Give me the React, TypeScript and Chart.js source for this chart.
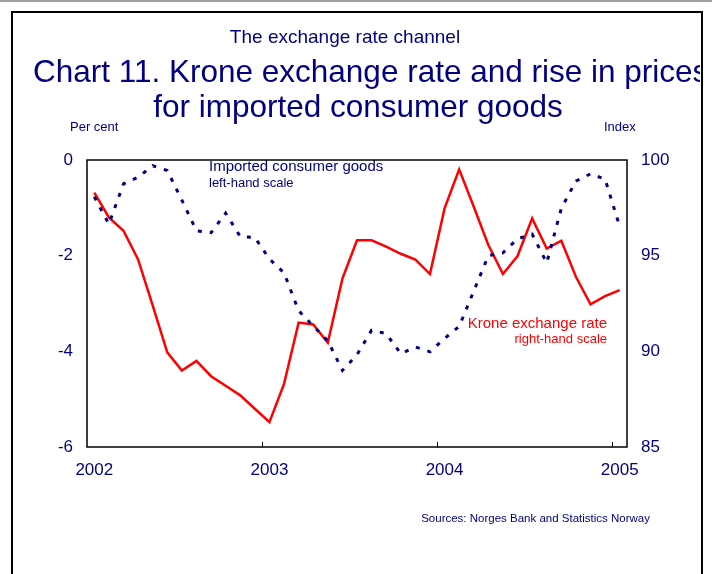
import React, { useEffect, useRef } from "react";
import { Chart, registerables } from "chart.js";

Chart.register(...registerables);

const months = [
  "2002-01", "2002-02", "2002-03", "2002-04", "2002-05", "2002-06", "2002-07", "2002-08", "2002-09", "2002-10", "2002-11", "2002-12",
  "2003-01", "2003-02", "2003-03", "2003-04", "2003-05", "2003-06", "2003-07", "2003-08", "2003-09", "2003-10", "2003-11", "2003-12",
  "2004-01", "2004-02", "2004-03", "2004-04", "2004-05", "2004-06", "2004-07", "2004-08", "2004-09", "2004-10", "2004-11", "2004-12",
  "2005-01",
];

// Imported consumer goods, 12-month rise in per cent (left-hand scale)
const importedGoods = [
  -0.77, -1.34, -0.5, -0.36, -0.12, -0.22, -0.84, -1.48, -1.52, -1.11, -1.6, -1.62,
  -2.07, -2.36, -3.15, -3.47, -3.78, -4.4, -4.07, -3.56, -3.63, -4.05, -3.91, -4.01,
  -3.73, -3.48, -2.74, -2.0, -1.94, -1.65, -1.55, -2.15, -1.01, -0.44, -0.29, -0.4,
  -1.39,
];

// Krone exchange rate index (right-hand scale)
const kroneRate = [
  98.29, 97.0, 96.3, 94.8, 92.4, 89.95, 89.0, 89.5, 88.7, 88.2, 87.7, 87.0,
  86.3, 88.3, 91.5, 91.4, 90.45, 93.8, 95.8, 95.8, 95.47, 95.1, 94.8, 94.04,
  97.47, 99.51, 97.56, 95.56, 94.04, 94.98, 96.95, 95.37, 95.78, 93.9, 92.46, 92.89,
  93.2,
];

const leftTicks = [-6, -4, -2, 0];
const rightTicks = [85, 90, 95, 100];

const NAVY = "#000080";
const RED = "#ff0000";
const FONT = "Arial, 'Liberation Sans', sans-serif";

const decorPlugin = {
  id: "decor",
  afterDraw(chart: any) {
    const ctx = chart.ctx as CanvasRenderingContext2D;
    const ca = chart.chartArea;
    ctx.save();

    const text = (s: string, x: number, y: number, size: number, color: string, align: CanvasTextAlign) => {
      ctx.font = `${size}px ${FONT}`;
      ctx.fillStyle = color;
      ctx.textAlign = align;
      ctx.textBaseline = "alphabetic";
      ctx.fillText(s, x, y);
    };

    text("The exchange rate channel", 345, 43, 19, NAVY, "center");

    ctx.save();
    ctx.beginPath();
    ctx.rect(0, 0, 700, 574);
    ctx.clip();
    text("Chart 11. Krone exchange rate and rise in prices", 33, 82, 31.5, NAVY, "left");
    ctx.restore();
    text("for imported consumer goods", 358, 117, 31.5, NAVY, "center");

    text("Per cent", 70, 131, 13, NAVY, "left");
    text("Index", 604, 131, 13, NAVY, "left");

    text("Imported consumer goods", 209, 171, 15, NAVY, "left");
    text("left-hand scale", 209, 187, 13, NAVY, "left");

    text("Krone exchange rate", 607, 328, 15, RED, "right");
    text("right-hand scale", 607, 343, 13, RED, "right");

    text("Sources: Norges Bank and Statistics Norway", 650, 522, 11.5, NAVY, "right");

    // top grey rule and frame
    ctx.fillStyle = "#a0a0a0";
    ctx.fillRect(0, 0, 712, 2);
    ctx.strokeStyle = "#000000";
    ctx.lineWidth = 2;
    ctx.strokeRect(12, 12, 690, 620);

    // plot border
    ctx.lineWidth = 1.5;
    ctx.strokeRect(ca.left, ca.top, ca.right - ca.left, ca.bottom - ca.top);

    // year tick marks at year boundaries
    const xs = chart.scales.x;
    ctx.lineWidth = 1;
    for (let i = 12; i < months.length; i += 12) {
      const px = (xs.getPixelForValue(i) + xs.getPixelForValue(i - 1)) / 2;
      ctx.beginPath();
      ctx.moveTo(Math.round(px) + 0.5, ca.bottom);
      ctx.lineTo(Math.round(px) + 0.5, ca.bottom - 5);
      ctx.stroke();
    }

    ctx.restore();
  },
};

export default function App() {
  const ref = useRef<HTMLCanvasElement | null>(null);

  useEffect(() => {
    if (!ref.current) return;
    const chart = new Chart(ref.current, {
      type: "line",
      data: {
        labels: months,
        datasets: [
          {
            label: "Imported consumer goods",
            data: importedGoods,
            yAxisID: "y",
            borderColor: NAVY,
            borderWidth: 3,
            borderDash: [4, 8],
            pointRadius: 0,
            tension: 0,
            fill: false,
            order: 0,
          },
          {
            label: "Krone exchange rate",
            data: kroneRate,
            yAxisID: "y1",
            borderColor: RED,
            borderWidth: 2.5,
            pointRadius: 0,
            tension: 0,
            fill: false,
            order: 1,
          },
        ],
      },
      options: {
        responsive: false,
        animation: false,
        devicePixelRatio: 1,
        layout: { padding: { top: 160, left: 0, right: 0, bottom: 0 } },
        plugins: {
          legend: { display: false },
          tooltip: { enabled: false },
          title: { display: false },
        },
        scales: {
          x: {
            type: "category",
            offset: true,
            grid: { display: false, drawTicks: false },
            border: { display: false },
            ticks: {
              autoSkip: false,
              maxRotation: 0,
              padding: 13,
              color: NAVY,
              font: { family: FONT, size: 17 },
              callback: (_v: any, i: number) =>
                months[i].endsWith("-01") ? months[i].slice(0, 4) : "",
            },
            afterFit: (s: any) => {
              s.height = 127;
            },
          },
          y: {
            position: "left",
            min: -6,
            max: 0,
            grid: { display: false, drawTicks: false },
            border: { display: false },
            afterBuildTicks: (s: any) => {
              s.ticks = leftTicks.map((v) => ({ value: v }));
            },
            ticks: {
              padding: 14,
              color: NAVY,
              font: { family: FONT, size: 17 },
            },
            afterFit: (s: any) => {
              s.width = 87;
            },
          },
          y1: {
            position: "right",
            min: 85,
            max: 100,
            grid: { display: false, drawTicks: false },
            border: { display: false },
            afterBuildTicks: (s: any) => {
              s.ticks = rightTicks.map((v) => ({ value: v }));
            },
            ticks: {
              padding: 14,
              color: NAVY,
              font: { family: FONT, size: 17 },
            },
            afterFit: (s: any) => {
              s.width = 85;
            },
          },
        },
      },
      plugins: [decorPlugin],
    });
    return () => chart.destroy();
  }, []);

  return (
    <div style={{ position: "absolute", left: 0, top: 0, width: 712, height: 574, background: "#fff" }}>
      <canvas ref={ref} width={712} height={574} style={{ display: "block", width: 712, height: 574 }} />
    </div>
  );
}
